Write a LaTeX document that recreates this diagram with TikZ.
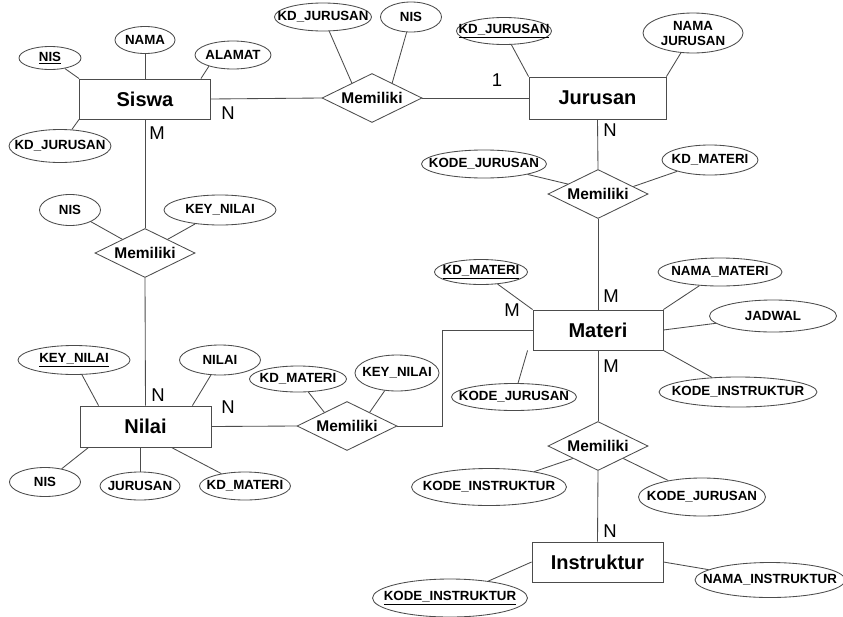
\documentclass[tikz,border=0pt]{standalone}
\usepackage{fontspec}
\setmainfont{Liberation Sans}
\usetikzlibrary{shapes.geometric,calc}
\begin{document}
\begin{tikzpicture}[x=1pt,y=-1pt,
  line/.style={draw=black!70,line width=0.85pt},
  entity/.style={line,rectangle,inner sep=0pt,minimum width=131pt,minimum height=40pt,
    font=\fontsize{20}{23}\selectfont\bfseries},
  rel/.style={line,diamond,aspect=2,inner sep=0pt,minimum width=100pt,minimum height=49pt,
    font=\fontsize{15.5}{18}\selectfont\bfseries},
  atext/.style={inner sep=0pt,align=center,font=\fontsize{13.3}{15}\selectfont\bfseries},
  attr/.style n args={3}{line,ellipse,inner sep=0pt,minimum width=#1pt,minimum height=#2pt,
    label={[atext]center:#3}},
  card/.style={inner sep=0pt,font=\fontsize{18.5}{20}\selectfont}
]
\fill[white] (0,0) rectangle (843,616);
\useasboundingbox (0,0) rectangle (843,616);

% entities
\node[entity] (siswa) at (145,99) {Siswa};
\node[entity,minimum width=137pt,minimum height=42pt] (jurusan) at (597.5,98) {Jurusan};
\node[entity,minimum height=41pt] (nilai) at (145.5,426.5) {Nilai};
\node[entity,minimum width=130pt] (materi) at (598,330) {Materi};
\node[entity] (instruktur) at (597.5,562) {Instruktur};

% relationships
\node[rel] (rel1) at (372,98) {Memiliki};
\node[rel] (rel2) at (598,194) {Memiliki};
\node[rel] (rel3) at (145,253) {Memiliki};
\node[rel] (rel4) at (347,426) {Memiliki};
\node[rel] (rel5) at (598,446) {Memiliki};

% attributes of Siswa
\node[attr={62}{23}{\underline{NIS}}] (sNis) at (50,58) {};
\node[attr={60}{27}{NAMA}] (sNama) at (145,40) {};
\node[attr={76}{28}{ALAMAT}] (sAlamat) at (233,55) {};
\node[attr={102}{33}{KD\_JURUSAN}] (sKdj) at (60,146) {};

% attributes of rel1
\node[attr={97}{28}{KD\_JURUSAN}] (r1Kdj) at (323,17) {};
\node[attr={61}{30}{NIS}] (r1Nis) at (411,17) {};

% attributes of Jurusan
\node[attr={95}{27}{\underline{KD\_JURUSAN}}] (jKdj) at (504,31) {};
\node[attr={100}{40}{NAMA\\JURUSAN}] (jNama) at (693,33) {};

% attributes of rel2
\node[attr={125}{28}{KODE\_JURUSAN}] (r2Kode) at (484,164) {};
\node[attr={96}{30}{KD\_MATERI}] (r2Kdm) at (710,160) {};

% attributes of rel3
\node[attr={61}{31}{NIS}] (r3Nis) at (70,210) {};
\node[attr={112}{30}{KEY\_NILAI}] (r3Key) at (220,210) {};

% attributes of Nilai
\node[attr={112}{29}{\underline{KEY\_NILAI}}] (nKey) at (74,360) {};
\node[attr={81}{30}{NILAI}] (nNilai) at (220,360) {};
\node[attr={71}{29}{NIS}] (nNis) at (45,482) {};
\node[attr={80}{28}{JURUSAN}] (nJur) at (140,486) {};
\node[attr={91}{28}{KD\_MATERI}] (nKdm) at (245,486) {};

% attributes of rel4
\node[attr={97}{26}{KD\_MATERI}] (r4Kdm) at (298,379) {};
\node[attr={84}{36}{KEY\_NILAI}] (r4Key) at (397,373) {};

% attributes of Materi
\node[attr={93}{25}{\underline{KD\_MATERI}}] (mKdm) at (481,272) {};
\node[attr={124}{28}{NAMA\_MATERI}] (mNama) at (720,272) {};
\node[attr={127}{32}{JADWAL}] (mJadwal) at (773,316) {};
\node[attr={158}{30}{KODE\_INSTRUKTUR}] (mKodeI) at (738,392) {};
\node[attr={125}{27}{KODE\_JURUSAN}] (mKodeJ) at (514,397) {};

% attributes of rel5
\node[attr={155}{37}{KODE\_INSTRUKTUR}] (r5KodeI) at (489,487) {};
\node[attr={127}{38}{KODE\_JURUSAN}] (r5KodeJ) at (702,497) {};

% attributes of Instruktur
\node[attr={155}{38}{\underline{KODE\_INSTRUKTUR}}] (iKode) at (450,598) {};
\node[attr={150}{35}{NAMA\_INSTRUKTUR}] (iNama) at (770,580) {};

\coordinate (elbow) at (442,330);

% relationship lines
\draw[line] (siswa.east) -- (rel1.west);
\draw[line] (rel1.east) -- (jurusan.west);
\draw[line] (jurusan.south) -- (rel2.north);
\draw[line] (rel2.south) -- (materi.north);
\draw[line] (siswa.south) -- (rel3.north);
\draw[line] (rel3.south) -- (nilai.north);
\draw[line] (nilai.east) -- (rel4.west);
\draw[line] (rel4.east) -| (elbow) -- (materi.west);
\draw[line] (materi.south) -- (rel5.north);
\draw[line] (rel5.south) -- (instruktur.north);

% attribute lines
\draw[line] (sNis) -- (siswa.north west);
\draw[line] (sNama) -- (sNama |- siswa.north);
\draw[line] (sAlamat.205) -- ($(siswa.north east)+(-10,0)$);
\draw[line] (sKdj) -- (siswa.south west);

\draw[line] (r1Kdj) -- ($(rel1.north)!0.4!(rel1.west)$);
\draw[line] (r1Nis) -- ($(rel1.north)!0.4!(rel1.east)$);

\draw[line] (jKdj) -- (jurusan.north west);
\draw[line] (jNama) -- (jurusan.north east);

\draw[line] (r2Kode) -- ($(rel2.north)!0.6!(rel2.west)$);
\draw[line] (r2Kdm) -- ($(rel2.north)!0.7!(rel2.east)$);

\draw[line] (r3Nis) -- ($(rel3.north)!0.45!(rel3.west)$);
\draw[line] (r3Key) -- ($(rel3.north)!0.45!(rel3.east)$);

\draw[line] (nKey) -- ($(nilai.north west)+(19,0)$);
\draw[line] (nNilai) -- ($(nilai.north east)+(-19,0)$);
\draw[line] (nNis) -- ($(nilai.south west)+(9,0)$);
\draw[line] (nJur) -- (nJur |- nilai.south);
\draw[line] (nKdm) -- ($(nilai.south east)+(-40,0)$);

\draw[line] (r4Kdm) -- ($(rel4.north)!0.45!(rel4.west)$);
\draw[line] (r4Key) -- ($(rel4.north)!0.45!(rel4.east)$);

\draw[line] (mKdm) -- (materi.north west);
\draw[line] (mNama) -- (materi.north east);
\draw[line] (mJadwal) -- (materi.east);
\draw[line] (mKodeI) -- (materi.south east);
\draw[line] (mKodeJ) -- ($(materi.south west)+(-5,0)$);

\draw[line] (r5KodeI) -- ($(rel5.south)!0.5!(rel5.west)$);
\draw[line] (r5KodeJ) -- ($(rel5.south)!0.5!(rel5.east)$);

\draw[line] (iKode) -- (instruktur.west);
\draw[line] (iNama) -- (instruktur.east);

% cardinalities
\node[card] (c1) at (228,113) {N};
\node[card] (c2) at (497,80) {1};
\node[card] (c3) at (610,130) {N};
\node[card] (c4) at (611,296) {M};
\node[card] (c5) at (512,310) {M};
\node[card] (c6) at (611,366) {M};
\node[card] (c7) at (157,133) {M};
\node[card] (c8) at (158,395) {N};
\node[card] (c9) at (228,407) {N};
\node[card] (c10) at (610,531) {N};
\end{tikzpicture}
\end{document}
